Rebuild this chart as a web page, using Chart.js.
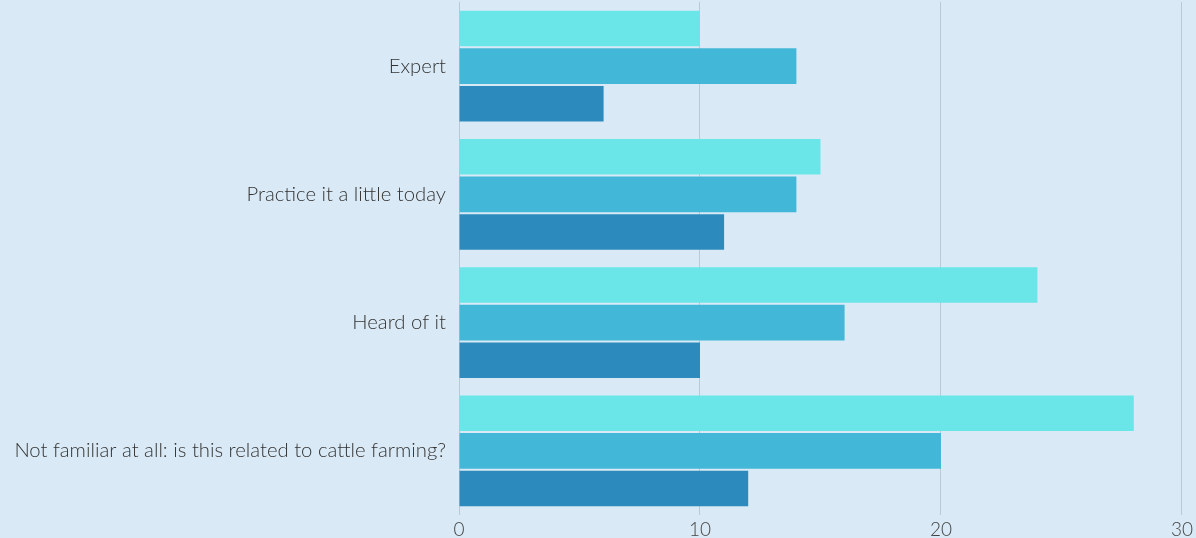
<!DOCTYPE html>
<html>
<head>
<meta charset="utf-8">
<script src="https://cdn.jsdelivr.net/npm/chart.js@4"></script>
<style>
  html, body { margin: 0; padding: 0; background: #d9eaf6; }
  #wrap { width: 1196px; height: 538px; }
</style>
</head>
<body>
<div id="wrap"><canvas id="chart"></canvas></div>
<script>
// categories and series values
const categories = ['Expert', 'Practice it a little today', 'Heard of it', 'Not familiar at all: is this related to cattle farming?'];
const series1 = [10, 15, 24, 28];
const series2 = [14, 14, 16, 20];
const series3 = [6, 11, 10, 12];
const xTicks = [0, 10, 20, 30];

const colors = ['#6ae5e8', '#42b7d7', '#2d8abd'];

let ctx = document.getElementById('chart').getContext('2d');
let chart = new Chart(ctx, {
    type: 'bar',
    data: {
        labels: categories,
        datasets: [
            { label: 'A', data: series1, backgroundColor: colors[0] },
            { label: 'B', data: series2, backgroundColor: colors[1] },
            { label: 'C', data: series3, backgroundColor: colors[2] }
        ]
    },
    options: {
        indexAxis: 'y',
        responsive: true,
        maintainAspectRatio: false,
        animation: false,
        layout: { padding: { top: 2, right: 14, left: 0, bottom: 0 } },
        datasets: { bar: { categoryPercentage: 0.88, barPercentage: 0.95 } },
        plugins: { legend: { display: false }, tooltip: { enabled: false } },
        scales: {
            x: {
                min: 0, max: 30,
                afterBuildTicks: axis => { axis.ticks = xTicks.map(v => ({ value: v })); },
                afterFit: axis => { axis.height = 23; },
                grid: { color: '#b9c9d6', drawTicks: false },
                border: { display: false },
                ticks: { color: '#444', padding: 3, font: { family: 'Lato', size: 19, weight: 300 } }
            },
            y: {
                afterFit: axis => { axis.width = 459; axis.paddingTop = 0; axis.paddingBottom = 0; },
                grid: { display: false },
                border: { display: false },
                ticks: { color: '#333', padding: 5, font: { family: 'Lato', size: 20.3, weight: 300 } }
            }
        }
    }
});
</script>
</body>
</html>
